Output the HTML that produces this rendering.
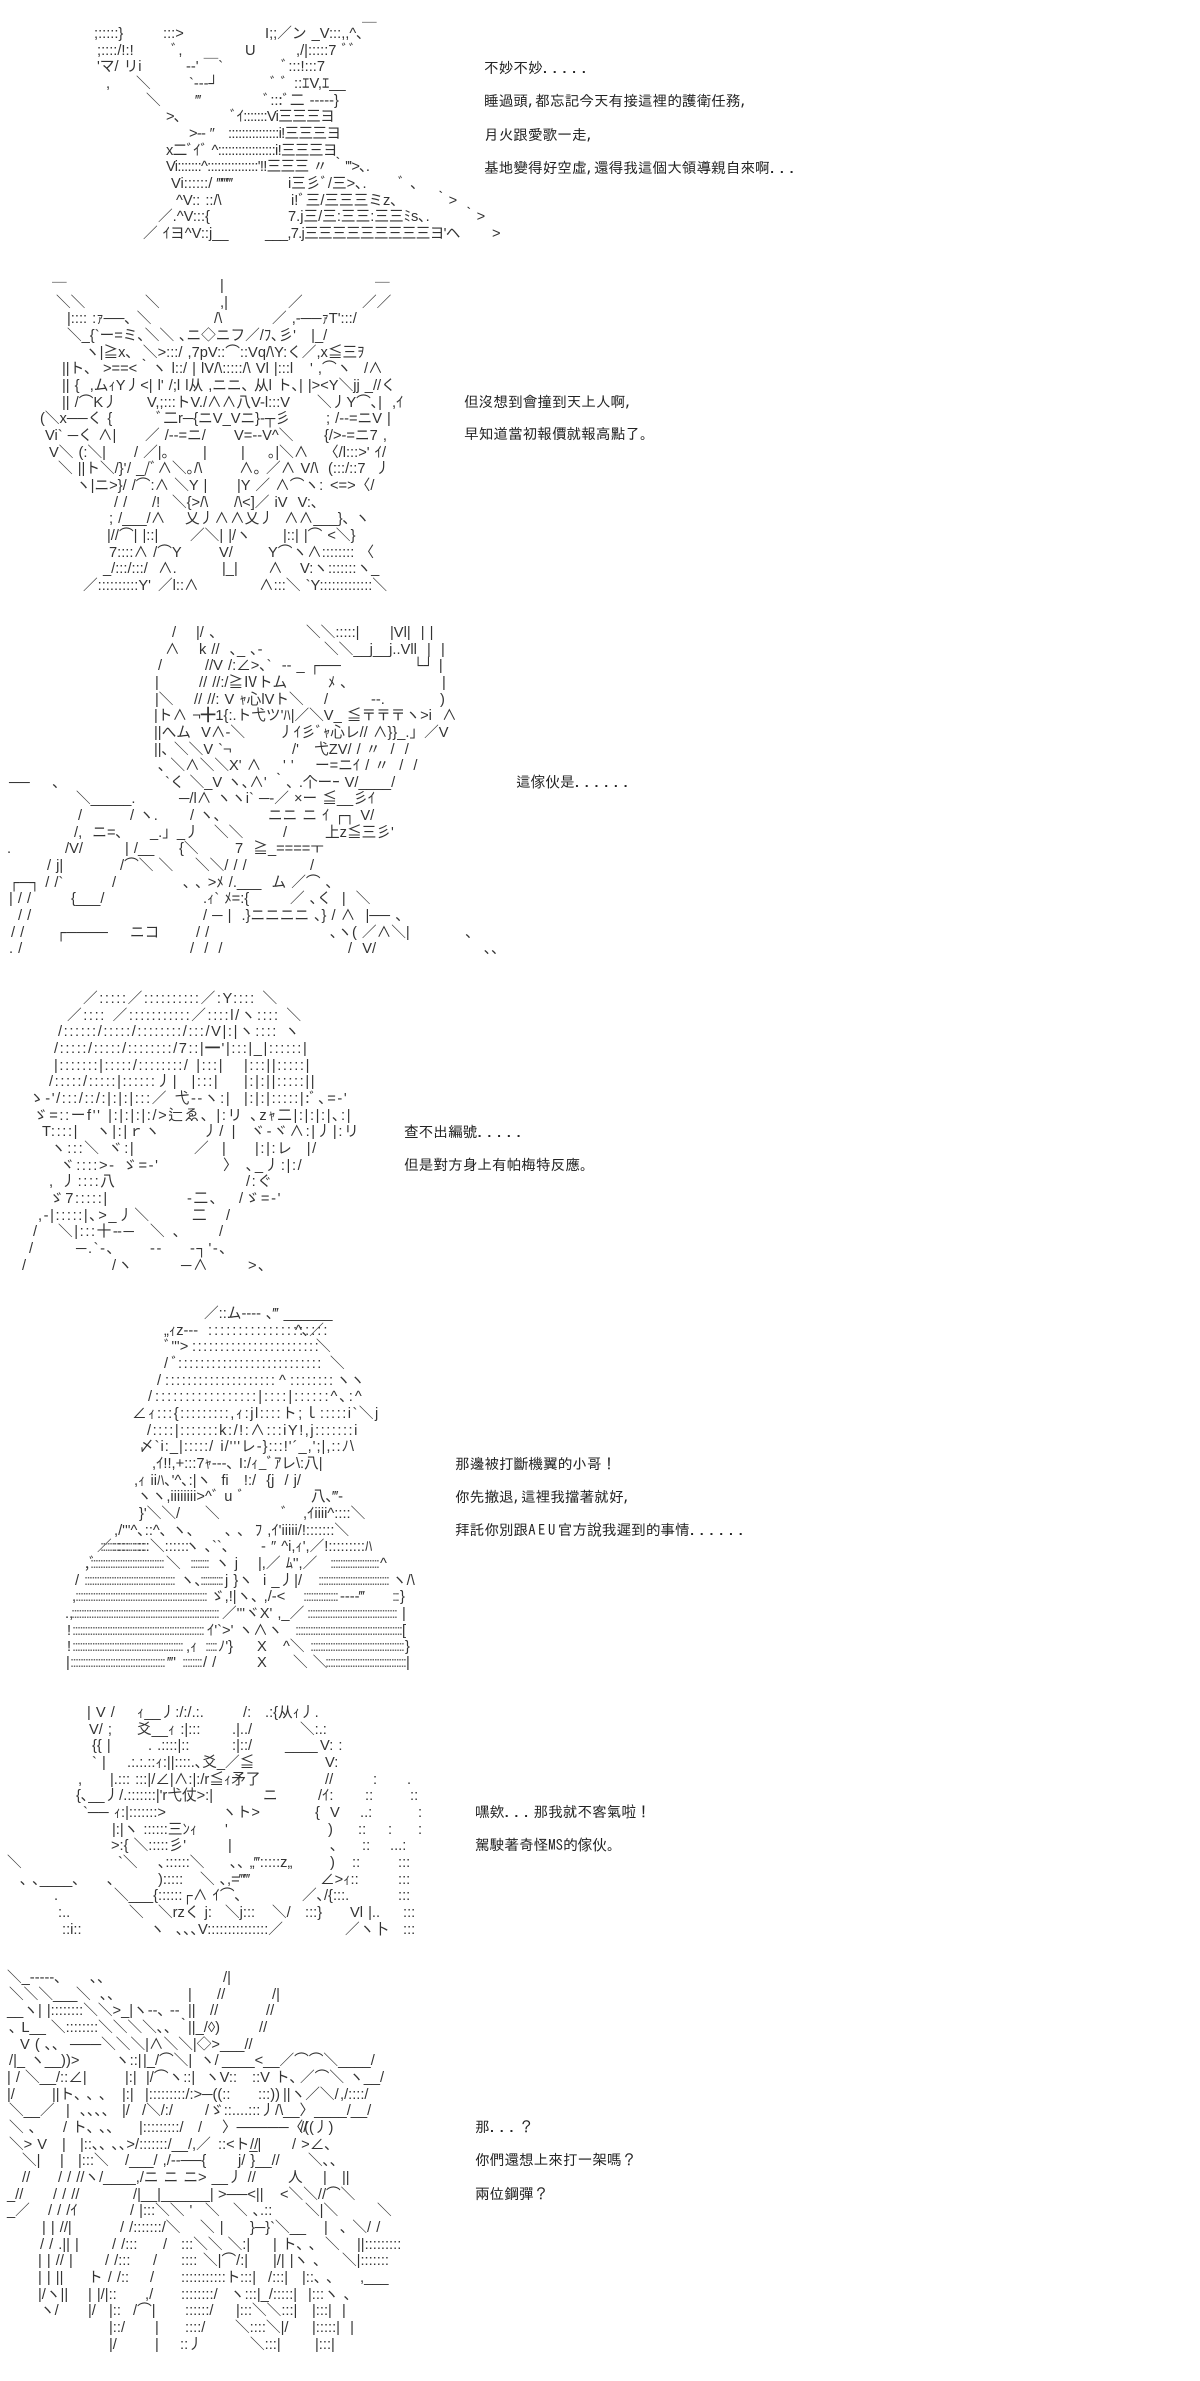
<!DOCTYPE html>
<html><head><meta charset="utf-8"><title>AA</title>
<style>
html,body{margin:0;padding:0;background:#fff;width:1200px;height:2381px;overflow:hidden}
svg{display:block}
text{white-space:pre}
.a{font:14.67px "Liberation Sans","Noto Sans CJK JP",sans-serif;fill:#333;word-spacing:1px}
.d{font:14.67px "Liberation Sans",sans-serif;fill:#666}
.t{font:14.67px "IPAGothic","Noto Sans CJK TC",sans-serif;fill:#222}
.p{letter-spacing:2.4px}
.l{letter-spacing:2.5px}
.n{letter-spacing:-.7px}
</style></head><body>
<svg xmlns="http://www.w3.org/2000/svg" width="1200" height="2381" viewBox="0 0 1200 2381">
<rect width="1200" height="2381" fill="#fff"/>
<g class="t">
<text x="484" y="73">不妙不妙<tspan class="p">.....</tspan></text>
<text x="484" y="106">睡過頭,都忘記今天有接這裡的護衛任務,</text>
<text x="484" y="140">月火跟愛歌一走,</text>
<text x="484" y="173">基地變得好空虛,還得我這個大領導親自來啊<tspan class="p">...</tspan></text>
<text x="464" y="407">但沒想到會撞到天上人啊,</text>
<text x="464" y="439">早知道當初報價就報高點了。</text>
<text x="516" y="787">這傢伙是<tspan class="p">......</tspan></text>
<text x="404" y="1137">查不出編號<tspan class="p">.....</tspan></text>
<text x="404" y="1170">但是對方身上有帕梅特反應。</text>
<text x="455" y="1469">那邊被打斷機翼的小哥！</text>
<text x="455" y="1502">你先撤退,這裡我擋著就好,</text>
<text x="455" y="1535">拜託你別跟<tspan class="l">AEU</tspan>官方說我遲到的事情<tspan class="p">......</tspan></text>
<text x="475" y="1817">嘿欸<tspan class="p">...</tspan>那我就不客氣啦！</text>
<text x="475" y="1850">駕駛著奇怪MS的傢伙。</text>
<text x="475" y="2132">那<tspan class="p">...</tspan>？</text>
<text x="475" y="2165">你們還想上來打一架嗎？</text>
<text x="475" y="2199">兩位鋼彈？</text>
</g>
<g class="a">
<!-- block 1 -->
<text y="38"><tspan x="94">;:::::}</tspan><tspan x="163">:::&gt;</tspan><tspan x="265">I;;／ン _V:::,,^､</tspan><tspan x="362" dy="-3">￣</tspan></text>
<text y="55"><tspan x="97">;::::/!:!</tspan><tspan x="171">ﾞ,</tspan><tspan x="245">U</tspan><tspan x="296">,/|:::::7 ﾞﾞ</tspan></text>
<text y="71"><tspan x="97">'マ/ リi</tspan><tspan x="186">--' ￣`</tspan><tspan x="281">ﾞ:::!:::7</tspan></text>
<text y="88"><tspan x="106">,</tspan><tspan x="136">＼</tspan><tspan x="189">`---┘</tspan><tspan x="270">ﾞ ﾞ ::ｴV,ｴ__</tspan></text>
<text y="105"><tspan x="146">＼</tspan><tspan x="196">‴</tspan><tspan x="263">ﾞ:::ﾞ二 -----}</tspan></text>
<text y="121" class="n"><tspan x="166">&gt;､</tspan><tspan x="230">ﾞｲ:::::::Vi三三三ヨ</tspan></text>
<text y="138" class="n"><tspan x="189">&gt;-- ″</tspan><tspan x="228">:::::::::::::::i!三三三ヨ</tspan></text>
<text y="155" class="n"><tspan x="166">x二ﾞｲﾞ ^:::::::::::::::::i!三三三ヨ</tspan></text>
<text y="171" class="n"><tspan x="166">Vi:::::::^:::::::::::::::'!!三三三 〃 ｀'''&gt;､.</tspan></text>
<text y="188"><tspan x="171">Vi::::::/ ‴‴‴</tspan><tspan x="288">i三彡ﾞ/三&gt;､.</tspan><tspan x="398">ﾞ ､</tspan></text>
<text y="205"><tspan x="176">^V:: ::/\</tspan><tspan x="291">i!ﾞ三/三三三ミz､</tspan><tspan x="434">｀&gt;</tspan></text>
<text y="221"><tspan x="158">／.^V:::{</tspan><tspan x="288">7.j三/三:三三:三三ﾐs､.</tspan><tspan x="462">｀&gt;</tspan></text>
<text y="238"><tspan x="143">／ ｲヨ^V::j__</tspan><tspan x="265" class="n">___,7.j三三三三三三三三三ヨ'ヘ</tspan><tspan x="492">&gt;</tspan></text>
<!-- block 2 -->
<text y="290"><tspan x="52" dy="5">￣</tspan><tspan x="220" dy="-5">|</tspan><tspan x="375" dy="5">￣</tspan></text>
<text y="307"><tspan x="56">＼＼</tspan><tspan x="145">＼</tspan><tspan x="220">,|</tspan><tspan x="288">／</tspan><tspan x="362">／／</tspan></text>
<text y="323"><tspan x="67">|:::: :ｧ──､ ＼</tspan><tspan x="214">/\</tspan><tspan x="272">／ ,-──ｧT':::/</tspan></text>
<text y="340"><tspan x="67">＼_{`ー=ミ､＼＼ ､ニ◇ニフ／/ﾌ､彡'   |_/</tspan></text>
<text y="357"><tspan x="85">ヽ|≧x､  ＼&gt;:::/ ,7pV::⌒::Vq/\Y:く／,x≦三ｦ</tspan></text>
<text y="373"><tspan x="62">||ト､</tspan><tspan x="103">&gt;==&lt;｀ヽ l::/ | lV/\:::::/\ Vl |:::l</tspan><tspan x="310">' ,⌒ヽ</tspan><tspan x="364">/∧</tspan></text>
<text y="390"><tspan x="62">|| {  ,ムｨY丿&lt;| l' /;l l从 ,ニニ､ 从l ト､| |&gt;&lt;Y＼jj _//く</tspan></text>
<text y="407"><tspan x="62">|| /⌒K丿</tspan><tspan x="147">V,;:::トV./∧∧八V-l:::V</tspan><tspan x="317">＼丿Y⌒､|  ,ｲ</tspan></text>
<text y="423"><tspan x="40">(＼x──く {</tspan><tspan x="156">ﾞ二r─{ニV_Vニ}-┬彡</tspan><tspan x="326">; /--=ニV |</tspan></text>
<text y="440"><tspan x="45">Vi` ─く ∧|</tspan><tspan x="145">／ /--=ニ/</tspan><tspan x="234">V=--V^＼</tspan><tspan x="324">{/&gt;-=ニ7 ,</tspan></text>
<text y="457"><tspan x="49">V＼ (:＼|</tspan><tspan x="134">/ ／|｡</tspan><tspan x="203">|</tspan><tspan x="241">|</tspan><tspan x="268">｡|＼∧</tspan><tspan x="324">〈/l:::&gt;' ｲ/</tspan></text>
<text y="473"><tspan x="58">＼ ||ト＼/}'</tspan><tspan x="127">/ _/ﾞ∧＼｡/\</tspan><tspan x="239">∧｡ ／∧ V/\</tspan><tspan x="328">(:::/::7  丿</tspan></text>
<text y="490"><tspan x="76">ヽ|ニ&gt;}/ /⌒:∧ ＼Y |</tspan><tspan x="237">|Y ／ ∧⌒ヽ:</tspan><tspan x="330">&lt;=&gt;〈/</tspan></text>
<text y="507"><tspan x="114">/ /</tspan><tspan x="152">/!</tspan><tspan x="172">＼{&gt;/\</tspan><tspan x="234">/\&lt;]／ iV  V:､</tspan></text>
<text y="523"><tspan x="109">; /___/∧</tspan><tspan x="185">乂丿∧</tspan><tspan x="230">∧乂丿</tspan><tspan x="284">∧∧___}､ ヽ</tspan></text>
<text y="540"><tspan x="107">|//⌒| |::|</tspan><tspan x="190">／＼| |/ヽ</tspan><tspan x="283">|::| |⌒ &lt;＼}</tspan></text>
<text y="557"><tspan x="109">7::::∧ /⌒Y</tspan><tspan x="219">V/</tspan><tspan x="268">Y⌒ヽ∧:::::::: 〈</tspan></text>
<text y="573"><tspan x="103">_/:::/:::/  ∧.</tspan><tspan x="222">|_|</tspan><tspan x="268">∧</tspan><tspan x="300">V:ヽ:::::::ヽ_</tspan></text>
<text y="590"><tspan x="83">／::::::::::Y'</tspan><tspan x="158">／l::∧</tspan><tspan x="259">∧:::＼ `Y:::::::::::::＼</tspan></text>
<!-- block 3 -->
<text y="637"><tspan x="172">/</tspan><tspan x="196">|/ 、</tspan><tspan x="306">＼＼:::::|</tspan><tspan x="390">|Vl|  | |</tspan></text>
<text y="654"><tspan x="165">∧</tspan><tspan x="199">k //  ､_ ､-</tspan><tspan x="324">＼＼__j__j..Vll  |  |</tspan></text>
<text y="670"><tspan x="158">/</tspan><tspan x="205">//V /:∠&gt;､`  -- _ ┌──</tspan><tspan x="413">└┘ |</tspan></text>
<text y="687"><tspan x="155">|</tspan><tspan x="199">// //:/≧Ⅳトム</tspan><tspan x="328">ﾒ ､</tspan><tspan x="442">|</tspan></text>
<text y="704"><tspan x="155">|＼</tspan><tspan x="194">// //: V ｬ心lVト＼</tspan><tspan x="324">/</tspan><tspan x="371">--.</tspan><tspan x="440">)</tspan></text>
<text y="720"><tspan x="154">|ト∧ ¬╋1{:.ト弋ツ'ﾊ|／＼V_ ≦〒〒〒ヽ&gt;i  ∧</tspan></text>
<text y="737"><tspan x="154">||へム  V∧-＼</tspan><tspan x="279">丿ｲ彡ﾞｬ心レ// ∧}}_.」／V</tspan></text>
<text y="754"><tspan x="154">||､ ＼＼V `¬</tspan><tspan x="292">/'   弋ZV/ / 〃  /  /</tspan></text>
<text y="770"><tspan x="158">､ ＼∧＼＼X' ∧</tspan><tspan x="283">' '</tspan><tspan x="315">ー=ニｲ / 〃  /  /</tspan></text>
<text y="787"><tspan x="9">──</tspan><tspan x="52">、</tspan><tspan x="165">`く ＼_V ヽ､∧' ｀､ .个ーｰ V/____/</tspan></text>
<text y="803"><tspan x="76">＼_____.</tspan><tspan x="179">─/l∧ ヽヽi` ─-／ ×ー ≦__彡ｲ</tspan></text>
<text y="820"><tspan x="78">/</tspan><tspan x="130">/ ヽ.</tspan><tspan x="190">/ ヽ､</tspan><tspan x="268">ニニ ニ ｲ ┌┐ V/</tspan></text>
<text y="837"><tspan x="74">/,  ニ=､</tspan><tspan x="150">_.」_丿</tspan><tspan x="214">＼＼</tspan><tspan x="283">/</tspan><tspan x="325">上z≦三彡'</tspan></text>
<text y="853"><tspan x="7">.</tspan><tspan x="65">/V/</tspan><tspan x="125">| /__</tspan><tspan x="179">{＼</tspan><tspan x="235">7  ≧_====ㅜ</tspan></text>
<text y="870"><tspan x="47">/ j|</tspan><tspan x="120">/⌒＼ ＼</tspan><tspan x="195">＼＼/ / /</tspan><tspan x="310">/</tspan></text>
<text y="887"><tspan x="9">┌─┐ / /`</tspan><tspan x="112">/</tspan><tspan x="183">､ ､ &gt;ﾒ /.___  ム ／⌒ ､</tspan></text>
<text y="903"><tspan x="9">| / /</tspan><tspan x="71">{___/</tspan><tspan x="203">.ｨ` ﾒ=:{</tspan><tspan x="290">／ ､く  |  ＼</tspan></text>
<text y="920"><tspan x="18">/ /</tspan><tspan x="203">/ ─ |  .}ニニニニ ､} / ∧  |── 、</tspan></text>
<text y="937"><tspan x="11">/ /</tspan><tspan x="56">┌────</tspan><tspan x="130">ニコ</tspan><tspan x="196">/ /</tspan><tspan x="330">､ヽ( ／∧＼|</tspan><tspan x="465">、</tspan></text>
<text y="953"><tspan x="9">. /</tspan><tspan x="190">/  /  /</tspan><tspan x="348">/  V/</tspan><tspan x="484">､､</tspan></text>
</g>
<!-- block 4 -->
<g class="a" style="letter-spacing:1.6px">
<text y="1003"><tspan x="83">／:::::／::::::::::／:Y:::: ＼</tspan></text>
<text y="1020"><tspan x="67">／:::: ／:::::::::::／::::l/ヽ:::: ＼</tspan></text>
<text y="1036"><tspan x="58">/::::::/:::::/::::::::/:::/V|:|ヽ:::: ヽ</tspan></text>
<text y="1053"><tspan x="54">/:::::/:::::/::::::::/7::|━'|:::|_|::::::|</tspan></text>
<text y="1070"><tspan x="54">|:::::::|:::::/::::::::/ |:::|</tspan><tspan x="244">|:::||:::::|</tspan></text>
<text y="1086"><tspan x="49">/:::::/:::::|::::::丿|  |:::|</tspan><tspan x="244">|:|:||:::::||</tspan></text>
<text y="1103"><tspan x="29">ゝ-'/:::/::/:|:|:|:::／ 弋--ヽ:|</tspan><tspan x="244">|:|:|:::::|:ﾞ､=-'</tspan></text>
<text y="1120"><tspan x="33">ゞ=::ーf'' |:|:|:|:/&gt;辷ゑ､ |:リ ､zｬ二|:|:|:|､:|</tspan></text>
<text y="1136"><tspan x="42">T::::|</tspan><tspan x="96">ヽ|:|ｒヽ</tspan><tspan x="203">丿/ |  ヾ-ヾ∧:|丿|:リ</tspan></text>
<text y="1153"><tspan x="51">ヽ:::＼</tspan><tspan x="108">ヾ:|</tspan><tspan x="194">／</tspan><tspan x="222">|</tspan><tspan x="255">|:|:レ  |/</tspan></text>
<text y="1170"><tspan x="60">ヾ::::&gt;- ゞ=-'</tspan><tspan x="223">〉 ､_丿:|:/</tspan></text>
<text y="1186"><tspan x="49">, 丿::::八</tspan><tspan x="246">/:ぐ</tspan></text>
<text y="1203"><tspan x="49">ゞ7:::::|</tspan><tspan x="187">-二､</tspan><tspan x="239">/ゞ=-'</tspan></text>
<text y="1220"><tspan x="38">,-|:::::|､&gt;_丿＼</tspan><tspan x="192">二</tspan><tspan x="226">/</tspan></text>
<text y="1236"><tspan x="33">/</tspan><tspan x="58">＼|:::十-</tspan><tspan x="117">-─</tspan><tspan x="150">＼ ､</tspan><tspan x="219">/</tspan></text>
<text y="1253"><tspan x="29">/</tspan><tspan x="76">─.`-､</tspan><tspan x="150">--</tspan><tspan x="190">-┐'-､</tspan></text>
<text y="1270"><tspan x="22">/</tspan><tspan x="112">/ヽ</tspan><tspan x="181">─∧</tspan><tspan x="248">&gt;､</tspan></text>
</g>
<g class="a">
<!-- block 5 -->
<text y="1318"><tspan x="204">／::ム---- ､‴ ______</tspan></text>
<text y="1335"><tspan x="164">„ｨz---</tspan><tspan x="208" style="letter-spacing:2px">::::::::::::::::::::</tspan><tspan x="295">^､／</tspan></text>
<text y="1351"><tspan x="164">ﾞ'''&gt;</tspan><tspan x="192" style="letter-spacing:1.5px">:::::::::::::::::::::::</tspan><tspan x="316">＼</tspan></text>
<text y="1368"><tspan x="164">/ ﾞ</tspan><tspan x="178" style="letter-spacing:1.5px">::::::::::::::::::::::::::</tspan><tspan x="330">＼</tspan></text>
<text y="1385"><tspan x="157">/</tspan><tspan x="165" style="letter-spacing:1.5px">::::::::::::::::::::</tspan><tspan x="279">^</tspan><tspan x="290" style="letter-spacing:1.5px">::::::::</tspan><tspan x="336">ヽ</tspan><tspan x="350">ヽ</tspan></text>
<text y="1401"><tspan x="148">/</tspan><tspan x="155" style="letter-spacing:2px">:::::::::::::::::|::::|::::::^､:^</tspan></text>
<text y="1418"><tspan x="132" style="letter-spacing:1.5px">∠ｨ:::{:::::::::,ｨ:jl::::ト;ｌ:::::i`＼j</tspan></text>
<text y="1435"><tspan x="147" style="letter-spacing:1.5px">/::::|:::::::k:/!:∧:::iY!,j:::::::i</tspan></text>
<text y="1451"><tspan x="139" style="letter-spacing:1px">〆`i:_|:::::/ i/'''レ-}:::!'´_,';|,::ﾉ\</tspan></text>
<text y="1468"><tspan x="152">,ｲ!!,+:::7ｬ---､ I:/ｨ_ﾞｱレ\:八|</tspan></text>
<text y="1485"><tspan x="134">,ｨ iiﾊ､'^､:|ヽ  fi   !:/  {j  / j/</tspan></text>
<text y="1501"><tspan x="137">ヽヽ,iiiiiiii&gt;^ﾞ u ﾞ</tspan><tspan x="311">八､‴-</tspan></text>
<text y="1518"><tspan x="139">}'＼＼/</tspan><tspan x="205">＼</tspan><tspan x="281">ﾞ</tspan><tspan x="303">,ｲiiii^::::＼</tspan></text>
<text y="1535"><tspan x="114">,/'''^､::^､ ヽ､</tspan><tspan x="225">､ ､  ﾌ ,ｲ'iiiii/!:::::::＼</tspan></text>
<text y="1551"><tspan x="97">／</tspan><tspan x="113">:::::::::</tspan><tspan x="150">＼::::::</tspan><tspan x="185">ヽ ､``､</tspan><tspan x="261">- ″ ^i,ｨ',／!:::::::::ﾊ</tspan></text>
<text y="1568"><tspan x="85">,ﾞ</tspan><tspan x="166">＼</tspan><tspan x="215">ヽ j</tspan><tspan x="258">|,／ ﾑ'',／</tspan><tspan x="380">^</tspan></text>
<text y="1585"><tspan x="75">/</tspan><tspan x="180">ヽ､</tspan><tspan x="225">j }ヽ  i _丿|/</tspan><tspan x="392">ヽ/\</tspan></text>
<text y="1601"><tspan x="72">,</tspan><tspan x="210">ゞ,!|ヽ､ ,/-&lt;</tspan><tspan x="340">----‴</tspan><tspan x="400">}</tspan></text>
<text y="1618"><tspan x="65">.,</tspan><tspan x="222">／'''ヾX' ,_／</tspan><tspan x="402">|</tspan></text>
<text y="1635"><tspan x="67">!</tspan><tspan x="207">ｲ'`&gt;' ヽ∧ヽ</tspan><tspan x="402">[</tspan></text>
<text y="1651"><tspan x="67">!</tspan><tspan x="186">,ｨ</tspan><tspan x="218">ﾉ'}</tspan><tspan x="257">X</tspan><tspan x="283">^＼</tspan><tspan x="405">}</tspan></text>
<text y="1667"><tspan x="66">|</tspan><tspan x="168">‴'</tspan><tspan x="203">/ /</tspan><tspan x="257">X</tspan><tspan x="293">＼ ＼</tspan><tspan x="406">|</tspan></text>
<!-- block 6 -->
<text y="1717"><tspan x="87">| V /</tspan><tspan x="137">ｨ__丿:/:/.:.</tspan><tspan x="243">/:</tspan><tspan x="265">.:{从ｨ丿.</tspan></text>
<text y="1734"><tspan x="89">V/ ;</tspan><tspan x="137">爻__ｨ :|:::</tspan><tspan x="232">.|../</tspan><tspan x="300">＼:.:</tspan></text>
<text y="1750"><tspan x="92">{{ |</tspan><tspan x="148">. .::::|::</tspan><tspan x="232">:|::/</tspan><tspan x="285">____</tspan><tspan x="320">V: :</tspan></text>
<text y="1767"><tspan x="92">` |</tspan><tspan x="127">.:.:.::ｨ:||::::.､爻_／≦</tspan><tspan x="325">V:</tspan></text>
<text y="1784"><tspan x="78">,</tspan><tspan x="110">|.::: :::|/∠|∧:|:/r≦ｨ矛了</tspan><tspan x="325">//</tspan><tspan x="373">:</tspan><tspan x="407">.</tspan></text>
<text y="1800"><tspan x="76">{､__丿/.:::::::|'r弋仗&gt;:|</tspan><tspan x="263">ニ</tspan><tspan x="318">/ｲ:</tspan><tspan x="365">::</tspan><tspan x="410">::</tspan></text>
<text y="1817"><tspan x="83">`── ｨ:|:::::::&gt;</tspan><tspan x="222">ヽト&gt;</tspan><tspan x="315">{  V</tspan><tspan x="360">..:</tspan><tspan x="418">:</tspan></text>
<text y="1834"><tspan x="112">|:|ヽ ::::::三ﾝｨ</tspan><tspan x="225">'</tspan><tspan x="328">)</tspan><tspan x="358">::</tspan><tspan x="388">:</tspan><tspan x="418">:</tspan></text>
<text y="1850"><tspan x="111">&gt;:{ ＼:::::彡'</tspan><tspan x="228">|</tspan><tspan x="330">､</tspan><tspan x="362">::</tspan><tspan x="390">...:</tspan></text>
<text y="1867"><tspan x="7">＼</tspan><tspan x="118">`＼</tspan><tspan x="158">､::::::＼</tspan><tspan x="230">､､ „‴:::::z„</tspan><tspan x="330">)</tspan><tspan x="352">::</tspan><tspan x="398">:::</tspan></text>
<text y="1884"><tspan x="20">､ ､____､</tspan><tspan x="107">､</tspan><tspan x="158">):::::</tspan><tspan x="200">＼ ､,=‴‴</tspan><tspan x="320">∠&gt;ｨ::</tspan><tspan x="398">:::</tspan></text>
<text y="1900"><tspan x="54">.</tspan><tspan x="114">＼___{::::::┌∧ ｲ⌒､</tspan><tspan x="302">／､/{:::.</tspan><tspan x="398">:::</tspan></text>
<text y="1917"><tspan x="58">:..</tspan><tspan x="129">＼</tspan><tspan x="158">＼rzく j:</tspan><tspan x="225">＼j:::</tspan><tspan x="272">＼/</tspan><tspan x="305">:::}</tspan><tspan x="350">Vl |..</tspan><tspan x="403">:::</tspan></text>
<text y="1934"><tspan x="62">::i::</tspan><tspan x="150">ヽ</tspan><tspan x="176">､､､V:::::::::::::::／</tspan><tspan x="345">／ヽ卜</tspan><tspan x="403">:::</tspan></text>
<!-- block 7 -->
<text y="1982"><tspan x="7">＼_-----､</tspan><tspan x="90">､､</tspan><tspan x="223">/|</tspan></text>
<text y="1999"><tspan x="9">＼＼＼___</tspan><tspan x="76">＼</tspan><tspan x="100">､､</tspan><tspan x="188">|</tspan><tspan x="217">//</tspan><tspan x="272">/|</tspan></text>
<text y="2015"><tspan x="7">__ヽ| |::::::::＼＼&gt;_|ヽ--､ --</tspan><tspan x="188">||</tspan><tspan x="210">//</tspan><tspan x="266">//</tspan></text>
<text y="2032"><tspan x="9">､ L__ ＼::::::::＼＼＼＼､､ ｀</tspan><tspan x="188">||_/◊)</tspan><tspan x="259">//</tspan></text>
<text y="2049"><tspan x="20">V ( ､､</tspan><tspan x="70">───＼＼＼|∧＼＼|◇&gt;</tspan><tspan x="220">___//</tspan></text>
<text y="2065"><tspan x="9">/|_ ヽ__))&gt;</tspan><tspan x="115">ヽ::|</tspan><tspan x="143">|_/⌒＼|</tspan><tspan x="200">ヽ/</tspan><tspan x="222">____&lt;__／⌒⌒＼____/</tspan></text>
<text y="2082"><tspan x="7">| / ＼__/::∠|</tspan><tspan x="125">|:|</tspan><tspan x="146">|/⌒ヽ::|</tspan><tspan x="205">ヽV::</tspan><tspan x="252">::V ト､</tspan><tspan x="300">／⌒＼ ヽ__/</tspan></text>
<text y="2099"><tspan x="7">|/</tspan><tspan x="52">||ト､ ､ ､</tspan><tspan x="122">|:|</tspan><tspan x="145">|:::::::::/:&gt;─((::</tspan><tspan x="258">:::))</tspan><tspan x="283">||ヽ／＼/</tspan><tspan x="340">,/::::/</tspan></text>
<text y="2115"><tspan x="9">＼__／</tspan><tspan x="66">|  ､､､､</tspan><tspan x="122">|/</tspan><tspan x="142">/＼/:/</tspan><tspan x="205">/ゞ::....:::丿/\__〉____/__/</tspan></text>
<text y="2132"><tspan x="9">＼ ､</tspan><tspan x="63">/ ト､ ､､</tspan><tspan x="139">|:::::::::/</tspan><tspan x="198">/</tspan><tspan x="222">〉─────〈/</tspan><tspan x="300">/((丿)</tspan></text>
<text y="2149"><tspan x="9">＼&gt; V</tspan><tspan x="62">|</tspan><tspan x="80">|::､､ ､､&gt;</tspan><tspan x="135">/:::::::/__/,／</tspan><tspan x="218">::&lt;ト_|</tspan><tspan x="250">//</tspan><tspan x="292">/ &gt;∠､</tspan></text>
<text y="2165"><tspan x="22">＼|</tspan><tspan x="60">|</tspan><tspan x="78">|:::＼</tspan><tspan x="125">/___/ ,/--──{</tspan><tspan x="238">j/ }__//</tspan><tspan x="308">＼､､</tspan></text>
<text y="2182"><tspan x="22">//</tspan><tspan x="58">/ / //ヽ/____,/ニ ニ ニ&gt; __丿 //</tspan><tspan x="288">人</tspan><tspan x="323">|</tspan><tspan x="342">||</tspan></text>
<text y="2199"><tspan x="7">_//</tspan><tspan x="53">/ / //</tspan><tspan x="133">/|__|______|</tspan><tspan x="218">&gt;──&lt;||</tspan><tspan x="280">&lt;＼＼//⌒＼</tspan></text>
<text y="2215"><tspan x="7">_／</tspan><tspan x="48">/ / /ｲ</tspan><tspan x="130">/ |:::＼＼ '</tspan><tspan x="205">＼</tspan><tspan x="233">＼ ､.::</tspan><tspan x="305">＼|＼</tspan><tspan x="377">＼</tspan></text>
<text y="2232"><tspan x="42">| | //|</tspan><tspan x="120">/ /:::::::/＼</tspan><tspan x="200">＼ |</tspan><tspan x="250">}─}`＼__</tspan><tspan x="324">|</tspan><tspan x="340">､ ＼/ /</tspan></text>
<text y="2249"><tspan x="40">/ / .|| |</tspan><tspan x="112">/ /:::</tspan><tspan x="163">/</tspan><tspan x="181">:::＼＼ ＼:|</tspan><tspan x="273">| ト､ ､</tspan><tspan x="325">＼</tspan><tspan x="357">||:::::::::</tspan></text>
<text y="2265"><tspan x="38">| | // |</tspan><tspan x="105">/ /:::</tspan><tspan x="153">/</tspan><tspan x="181">::::</tspan><tspan x="203">＼|⌒/:|</tspan><tspan x="273">|/| |ヽ ､</tspan><tspan x="342">＼|:::::::</tspan></text>
<text y="2282"><tspan x="38">| | ||</tspan><tspan x="88">ト / /::</tspan><tspan x="150">/</tspan><tspan x="181">:::::::::::ト</tspan><tspan x="240">:::|</tspan><tspan x="268">/:::|</tspan><tspan x="302">|::､ ､</tspan><tspan x="360">,___</tspan></text>
<text y="2299"><tspan x="38">|/ヽ||</tspan><tspan x="88">| |/|::</tspan><tspan x="145">,/</tspan><tspan x="181">::::::::/</tspan><tspan x="230">ヽ:::|_/:::::|</tspan><tspan x="308">|:::ヽ ､</tspan></text>
<text y="2315"><tspan x="40">ヽ/</tspan><tspan x="88">|/</tspan><tspan x="109">|::</tspan><tspan x="133">/⌒|</tspan><tspan x="185">::::::/</tspan><tspan x="236">|:::＼＼:::|</tspan><tspan x="312">|:::|  |</tspan></text>
<text y="2332"><tspan x="109">|::/</tspan><tspan x="155">|</tspan><tspan x="185">::::/</tspan><tspan x="235">＼::::＼|/</tspan><tspan x="312">|:::::|  |</tspan></text>
<text y="2349"><tspan x="109">|/</tspan><tspan x="155">|</tspan><tspan x="180">::丿</tspan><tspan x="250">＼:::|</tspan><tspan x="315">|:::|</tspan></text>
</g>
<!-- dense dotted rows -->
<g class="d">
<text x="100" y="1551" textLength="47">::::::::::::::::::::</text>
<text x="90" y="1568" textLength="75">::::::::::::::::::::::::::::::</text>
<text x="190" y="1568" textLength="20">::::::::</text>
<text x="330" y="1568" textLength="50">::::::::::::::::::::</text>
<text x="84" y="1585" textLength="92">:::::::::::::::::::::::::::::::::::::</text>
<text x="200" y="1585" textLength="24">::::::::::</text>
<text x="318" y="1585" textLength="72">:::::::::::::::::::::::::::::</text>
<text x="75" y="1601" textLength="133">:::::::::::::::::::::::::::::::::::::::::::::::::::::</text>
<text x="303" y="1601" textLength="36">::::::::::::::</text>
<text x="392" y="1601" textLength="8">:::</text>
<text x="71" y="1618" textLength="149">::::::::::::::::::::::::::::::::::::::::::::::::::::::::::::</text>
<text x="307" y="1618" textLength="91">::::::::::::::::::::::::::::::::::::</text>
<text x="72" y="1635" textLength="133">:::::::::::::::::::::::::::::::::::::::::::::::::::::</text>
<text x="295" y="1635" textLength="108">:::::::::::::::::::::::::::::::::::::::::::</text>
<text x="72" y="1651" textLength="112">:::::::::::::::::::::::::::::::::::::::::::::</text>
<text x="205" y="1651" textLength="13">:::::</text>
<text x="310" y="1651" textLength="95">::::::::::::::::::::::::::::::::::::::</text>
<text x="70" y="1667" textLength="96">::::::::::::::::::::::::::::::::::::::</text>
<text x="182" y="1667" textLength="21">::::::::</text>
<text x="325" y="1667" textLength="82">:::::::::::::::::::::::::::::::::</text>
</g>
</svg>
</body></html>
